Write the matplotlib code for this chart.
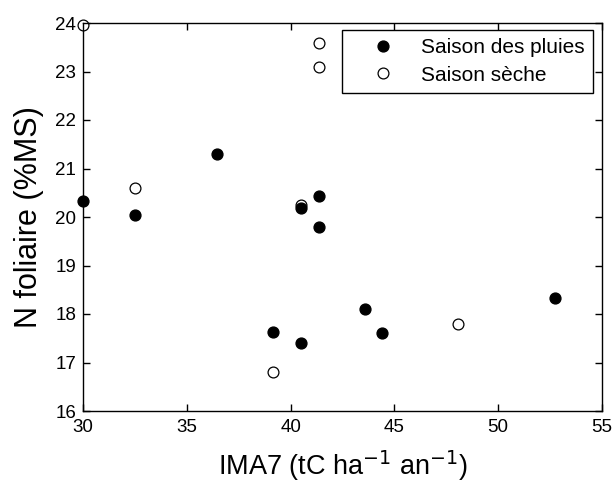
import matplotlib
matplotlib.use("Agg")
import matplotlib.pyplot as plt

plt.rcParams['font.family'] = ['Liberation Sans', 'DejaVu Sans']

# Saison des pluies (filled)
pluies_x = [30.0, 32.5, 36.45, 40.5, 41.35, 41.35, 39.15, 40.5, 43.6, 44.4, 52.75]
pluies_y = [20.33, 20.04, 21.29, 20.19, 20.43, 19.80, 17.62, 17.40, 18.10, 17.60, 18.32]

# Saison sèche (open)
seche_x = [30.0, 32.5, 41.35, 41.35, 40.5, 39.15, 48.05]
seche_y = [23.95, 20.59, 23.59, 23.09, 20.25, 16.80, 17.79]

xticks = [30, 35, 40, 45, 50, 55]
yticks = [16, 17, 18, 19, 20, 21, 22, 23, 24]

fig = plt.figure(figsize=(6.13, 4.84), dpi=100)
ax = fig.add_axes([83/613, 1 - 411/484, (602-83)/613, (411-23)/484])

ax.plot(pluies_x, pluies_y, 'o', color='black', markerfacecolor='black',
        markersize=7.8, label='Saison des pluies', clip_on=False, zorder=3)
ax.plot(seche_x, seche_y, 'o', color='black', markerfacecolor='white',
        markersize=7.8, markeredgewidth=0.9, label='Saison sèche', clip_on=False, zorder=2)

ax.set_xlim(30, 55)
ax.set_ylim(16, 24)
ax.set_xticks(xticks)
ax.set_yticks(yticks)
ax.tick_params(direction='in', top=True, right=True, length=5, width=1,
               labelsize=13.5)
ax.tick_params(axis='x', pad=6)
ax.tick_params(axis='y', pad=5)
for s in ax.spines.values():
    s.set_linewidth(1)

ax.set_xlabel('IMA7 (tC ha$^{-1}$ an$^{-1}$)', fontsize=19.5, labelpad=9)
ax.set_ylabel('N foliaire (%MS)', fontsize=22, labelpad=8)

leg = ax.legend(loc='upper right', bbox_to_anchor=(1 - 9/519, 1 - 7/388),
                borderaxespad=0, fontsize=15,
                frameon=True, fancybox=False, edgecolor='black', framealpha=1,
                handletextpad=0.3, borderpad=0.4, labelspacing=0.4, handlelength=3.1)
leg.get_frame().set_linewidth(1)

fig.savefig('out.png', dpi=100)
